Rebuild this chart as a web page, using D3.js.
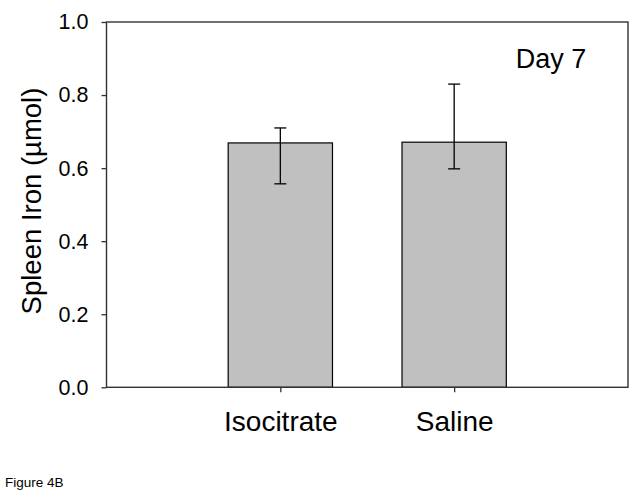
<!DOCTYPE html>
<html>
<head>
<meta charset="utf-8">
<script src="https://cdn.jsdelivr.net/npm/d3@7"></script>
<style>
  body { margin: 0; background: #fff; }
  svg { display: block; font-family: Arial, "Liberation Sans", sans-serif; }
</style>
</head>
<body>
<div id="drawArea"></div>
<script>
// data
var categories = ["Isocitrate", "Saline"];
var means = [0.669, 0.671];
var errUpper = [0.710, 0.830];
var errLower = [0.557, 0.598];
var yTicks = [0, 0.2, 0.4, 0.6, 0.8, 1.0];

var svg_width = 641;
var svg_height = 497;
var plotLeft = 106.5, plotRight = 628, plotTop = 22, plotBottom = 387.3;
var barWidth = 0.6; // in category units

var svg = d3.select("#drawArea").append("svg")
	.attr("width", svg_width)
	.attr("height", svg_height);

var x = d3.scaleLinear().domain([0, categories.length + 1]).range([plotLeft, plotRight]);
var y = d3.scaleLinear().domain([0, 1]).range([plotBottom, plotTop]);

// bars
svg.selectAll("rect.bar")
	.data(means)
	.enter().append("rect")
		.attr("class", "bar")
		.attr("x", function(d, i) { return x(i + 1 - barWidth / 2); })
		.attr("width", function() { return x(barWidth) - x(0); })
		.attr("y", function(d) { return y(d); })
		.attr("height", function(d) { return y(0) - y(d); })
		.attr("fill", "#c0c0c0")
		.attr("stroke", "#000")
		.attr("stroke-width", 1.2);

// error bars
var cap = 6;
var err = svg.selectAll("g.err")
	.data(means)
	.enter().append("g")
		.attr("class", "err")
		.attr("stroke", "#000")
		.attr("stroke-width", 1.3);

err.append("line")
	.attr("x1", function(d, i) { return x(i + 1); })
	.attr("x2", function(d, i) { return x(i + 1); })
	.attr("y1", function(d, i) { return y(errLower[i]); })
	.attr("y2", function(d, i) { return y(errUpper[i]); });
err.append("line")
	.attr("x1", function(d, i) { return x(i + 1) - cap; })
	.attr("x2", function(d, i) { return x(i + 1) + cap; })
	.attr("y1", function(d, i) { return y(errUpper[i]); })
	.attr("y2", function(d, i) { return y(errUpper[i]); });
err.append("line")
	.attr("x1", function(d, i) { return x(i + 1) - cap; })
	.attr("x2", function(d, i) { return x(i + 1) + cap; })
	.attr("y1", function(d, i) { return y(errLower[i]); })
	.attr("y2", function(d, i) { return y(errLower[i]); });

// frame
svg.append("rect")
	.attr("x", plotLeft)
	.attr("y", plotTop)
	.attr("width", plotRight - plotLeft)
	.attr("height", plotBottom - plotTop)
	.attr("fill", "none")
	.attr("stroke", "#333")
	.attr("stroke-width", 1.4);

// y axis
var yAxis = svg.append("g")
	.attr("transform", "translate(" + plotLeft + ",0)")
	.call(d3.axisLeft(y).tickValues(yTicks).tickSize(5).tickPadding(13).tickFormat(d3.format(".1f")));
yAxis.select(".domain").remove();
yAxis.selectAll("line").attr("stroke", "#333").attr("stroke-width", 1.3);
yAxis.selectAll("text")
	.attr("font-size", 21.5)
	.attr("font-family", "Arial, 'Liberation Sans', sans-serif")
	.attr("fill", "#000");

// x axis
var xAxis = svg.append("g")
	.attr("transform", "translate(0," + plotBottom + ")")
	.call(d3.axisBottom(x).tickValues([1, 2]).tickSize(5).tickPadding(19)
		.tickFormat(function(d) { return categories[d - 1]; }));
xAxis.select(".domain").remove();
xAxis.selectAll("line").attr("stroke", "#333").attr("stroke-width", 1.3);
xAxis.selectAll("text")
	.attr("font-size", 28)
	.attr("font-family", "Arial, 'Liberation Sans', sans-serif")
	.attr("fill", "#000");

// y title
svg.append("text")
	.attr("transform", "translate(41,201) rotate(-90)")
	.attr("text-anchor", "middle")
	.attr("font-size", 27.5)
	.text("Spleen Iron (\u00b5mol)");

// panel label
svg.append("text")
	.attr("x", 551)
	.attr("y", 68)
	.attr("text-anchor", "middle")
	.attr("font-size", 27)
	.text("Day 7");

svg.append("text")
	.attr("x", 5)
	.attr("y", 487)
	.attr("font-size", 13.5)
	.text("Figure 4B");
</script>
</body>
</html>
